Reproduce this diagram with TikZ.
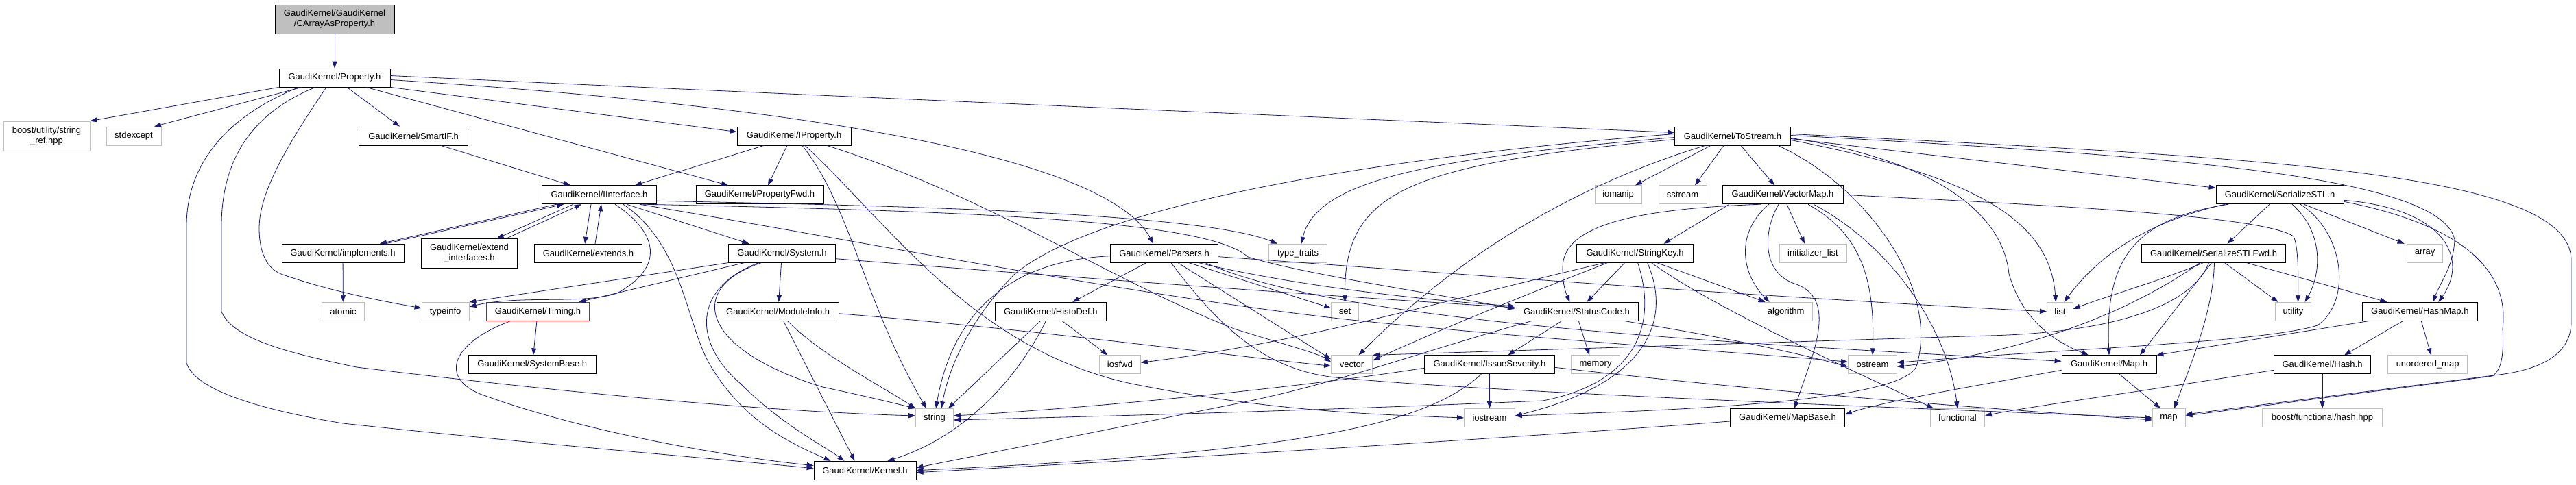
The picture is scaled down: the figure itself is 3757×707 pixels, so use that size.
\documentclass[tikz,border=0pt]{standalone}
\usepackage{fontspec}
\setmainfont{Liberation Sans}
\usetikzlibrary{arrows.meta}
\definecolor{edgeblue}{HTML}{191970}
\definecolor{sysgray}{HTML}{BFBFBF}
\newcommand\gkf{\fontsize{13}{15}\selectfont}
\begin{document}
\begin{tikzpicture}[x=1pt,y=-1pt,
  base/.style={draw, line width=0.8pt, fill=white, minimum height=27pt, inner sep=0pt, align=center, font=\gkf},
  gk/.style={base, draw=black},
  sys/.style={base, draw=sysgray},
  rootn/.style={base, draw=black, fill=sysgray, minimum height=42pt},
  redn/.style={base, draw=red},
  e/.style={draw=edgeblue, line width=0.8pt, -{Triangle[length=10pt,width=7pt]}}]
\useasboundingbox (0,0) rectangle (3757,707);
% ---------------- nodes
\node[rootn, minimum width=174pt] (root) at (488,28) {GaudiKernel/GaudiKernel\\/CArrayAsProperty.h};
\node[gk, minimum width=162pt] (prop) at (488,113.5) {GaudiKernel/Property.h};
\node[sys, minimum width=126pt, minimum height=43pt] (sref) at (68,198.5) {boost/utility/string\\\_ref.hpp};
\node[sys, minimum width=80pt] (stdex) at (195,198.5) {stdexcept};
\node[gk, minimum width=159pt] (smartif) at (603,198.5) {GaudiKernel/SmartIF.h};
\node[gk, minimum width=166pt] (iprop) at (1158,198.5) {GaudiKernel/IProperty.h};
\node[gk, minimum width=169pt] (tostream) at (2527,198.5) {GaudiKernel/ToStream.h};
\node[gk, minimum width=167pt] (iinterface) at (874,284.3) {GaudiKernel/IInterface.h};
\node[gk, minimum width=186pt] (propfwd) at (1108,284.3) {GaudiKernel/PropertyFwd.h};
\node[sys, minimum width=68pt] (iomanip) at (2360,284.3) {iomanip};
\node[sys, minimum width=70pt] (sstream) at (2454,284.3) {sstream};
\node[gk, minimum width=176pt] (vectormap) at (2600,284.3) {GaudiKernel/VectorMap.h};
\node[gk, minimum width=186pt] (serstl) at (3325,284.3) {GaudiKernel/SerializeSTL.h};
\node[gk, minimum width=178pt] (implements) at (500,369.7) {GaudiKernel/implements.h};
\node[gk, minimum width=140pt, minimum height=43pt] (extendif) at (684.5,370) {GaudiKernel/extend\\\_interfaces.h};
\node[gk, minimum width=157pt] (extends) at (858,369.7) {GaudiKernel/extends.h};
\node[gk, minimum width=156pt] (system) at (1140.5,369.7) {GaudiKernel/System.h};
\node[gk, minimum width=157pt] (parsers) at (1698,369.7) {GaudiKernel/Parsers.h};
\node[sys, minimum width=85pt] (typetraits) at (1893,369.7) {type\_traits};
\node[gk, minimum width=170pt] (stringkey) at (2384.6,369.7) {GaudiKernel/StringKey.h};
\node[sys, minimum width=98pt] (initlist) at (2644,369.7) {initializer\_list};
\node[gk, minimum width=210pt] (serstlfwd) at (3228.5,369.7) {GaudiKernel/SerializeSTLFwd.h};
\node[sys, minimum width=52pt] (array) at (3536.6,369.7) {array};
\node[sys, minimum width=62pt] (atomic) at (500.5,454.8) {atomic};
\node[sys, minimum width=69pt] (typeinfo) at (649.6,454.8) {typeinfo};
\node[redn, minimum width=150pt] (timing) at (784.4,454.8) {GaudiKernel/Timing.h};
\node[gk, minimum width=178pt] (moduleinfo) at (1134.7,454.8) {GaudiKernel/ModuleInfo.h};
\node[gk, minimum width=162pt] (histodef) at (1532.3,454.8) {GaudiKernel/HistoDef.h};
\node[sys, minimum width=40pt] (set) at (1961.5,454.8) {set};
\node[gk, minimum width=180pt] (statuscode) at (2299.4,454.8) {GaudiKernel/StatusCode.h};
\node[sys, minimum width=78pt] (algorithm) at (2604.6,454.8) {algorithm};
\node[sys, minimum width=38pt] (list) at (3004.4,454.8) {list};
\node[sys, minimum width=52pt] (utility) at (3344.5,454.8) {utility};
\node[gk, minimum width=168pt] (hashmap) at (3529.3,454.8) {GaudiKernel/HashMap.h};
\node[gk, minimum width=186pt] (systembase) at (776.3,532.3) {GaudiKernel/SystemBase.h};
\node[sys, minimum width=60pt] (iosfwd) at (1633.4,532.3) {iosfwd};
\node[sys, minimum width=60pt] (vector) at (1971.5,532.3) {vector};
\node[gk, minimum width=190pt] (issuesev) at (2172.4,532.3) {GaudiKernel/IssueSeverity.h};
\node[sys, minimum width=71pt] (memory) at (2327,532.3) {memory};
\node[sys, minimum width=71pt] (ostream) at (2731,532.3) {ostream};
\node[gk, minimum width=138pt] (mapH) at (3076,532.3) {GaudiKernel/Map.h};
\node[gk, minimum width=141pt] (hash) at (3387,532.3) {GaudiKernel/Hash.h};
\node[sys, minimum width=116pt] (unordmap) at (3540.6,532.3) {unordered\_map};
\node[sys, minimum width=55pt] (string) at (1363,610) {string};
\node[sys, minimum width=74pt] (iostream) at (2172.4,610) {iostream};
\node[gk, minimum width=167pt] (mapbase) at (2607,610) {GaudiKernel/MapBase.h};
\node[sys, minimum width=79pt] (functional) at (2855,610) {functional};
\node[sys, minimum width=48pt] (map) at (3163,610) {map};
\node[sys, minimum width=175pt] (boosthash) at (3387,610) {boost/functional/hash.hpp};
\node[gk, minimum width=149pt] (kernel) at (1261.5,686.7) {GaudiKernel/Kernel.h};
% ---------------- edges
\draw[e] (root) -- (prop);
% Property.h
\draw[e] (prop.south west) -- (sref.north east);
\draw[e] ([xshift=-48pt]prop.south) -- ([xshift=30pt]stdex.north);
\draw[e] ([xshift=18pt]prop.south) -- ([xshift=-20pt]smartif.north);
\draw[e] (prop.south east) -- ([yshift=6pt]iprop.west);
\draw[e] ([xshift=46pt]prop.south) -- ([xshift=-46pt]propfwd.north);
\draw[e] ([yshift=-3pt]prop.east) .. controls (1250,160) and (1620,240) .. ([xshift=-16pt]parsers.north);
\draw[e] ([yshift=3pt]prop.east) .. controls (1200,140) and (1900,170) .. ([yshift=5pt]tostream.west);
\draw[e] ([xshift=-12pt]prop.south) .. controls (420,210) and (378,280) .. (378,333) .. controls (378,370) and (390,392) .. (410,400) .. controls (480,425) and (560,440) .. ([yshift=5pt]typeinfo.west);
\draw[e] ([xshift=-28pt]prop.south) .. controls (380,160) and (323,220) .. (323,330) -- (323,455) .. controls (340,495) and (420,515) .. (520,536) .. controls (800,570) and (1100,600) .. ([yshift=3pt]string.west);
\draw[e] ([xshift=-52pt]prop.south) .. controls (330,170) and (272,240) .. (272,330) -- (272,530) .. controls (285,570) and (380,598) .. (500,618) .. controls (800,650) and (1050,670) .. ([yshift=3pt]kernel.west);
% SmartIF
\draw[e] ([xshift=40pt]smartif.south) -- ([xshift=-42pt]iinterface.north);
% IProperty
\draw[e] ([xshift=-44pt]iprop.south) -- ([xshift=52pt]iinterface.north);
\draw[e] ([xshift=-10pt]iprop.south) -- ([xshift=12pt]propfwd.north);
\draw[e] ([xshift=12pt]iprop.south) .. controls (1240,300) and (1260,440) .. ([xshift=-12pt]string.north);
\draw[e] ([xshift=16pt]iprop.south) .. controls (1300,330) and (1420,510) .. (1650,560) .. controls (1850,600) and (2000,605) .. (iostream.west);
\draw[e] ([xshift=48pt]iprop.south) .. controls (1450,290) and (1600,400) .. (1800,480) .. controls (1880,505) and (1920,515) .. ([yshift=4pt]vector.west);
% IInterface
\draw[e] ([xshift=-62pt]iinterface.south) -- ([xshift=54pt]implements.north);
\draw[e] ([xshift=62pt]implements.north) -- ([xshift=-52pt]iinterface.south);
\draw[e] ([xshift=-38pt]iinterface.south) -- ([xshift=40pt]extendif.north);
\draw[e] ([xshift=54pt]extendif.north) -- ([xshift=-26pt]iinterface.south);
\draw[e] ([xshift=-12pt]iinterface.south) -- ([xshift=-5pt]extends.north);
\draw[e] ([xshift=10pt]extends.north) -- ([xshift=3pt]iinterface.south);
\draw[e] ([xshift=40pt]iinterface.south) -- ([xshift=-48pt]system.north);
\draw[e] ([xshift=23pt]iinterface.south) .. controls (960,340) and (970,390) .. (900,428) .. controls (850,445) and (760,430) .. ([yshift=7pt]typeinfo.east);
\draw[e] ([xshift=35pt]iinterface.south) .. controls (1000,360) and (1000,480) .. (1040,540) .. controls (1090,620) and (1160,650) .. ([xshift=-50pt]kernel.north);
\draw[e] ([yshift=-9pt]iinterface.east) .. controls (1300,300) and (1750,310) .. ([xshift=-30pt]typetraits.north);
\draw[e] ([xshift=-20pt]iinterface.south east) .. controls (1400,308) and (1760,320) .. (1820,375) .. controls (1900,400) and (2100,430) .. ([yshift=4pt]statuscode.west);
\draw[e] ([xshift=-25pt]iinterface.south east) .. controls (1300,360) and (1700,440) .. (2000,470) .. controls (2300,500) and (2550,515) .. ([yshift=4pt]ostream.west);
% implements
\draw[e] (implements) -- (atomic);
% System
\draw[e] (system.south west) -- (typeinfo.north east);
\draw[e] ([xshift=-55pt]system.south) -- ([xshift=60pt]timing.north);
\draw[e] (system) -- (moduleinfo);
\draw[e] ([xshift=-34pt]system.south) .. controls (1010,420) and (1010,500) .. (1080,560) .. controls (1140,620) and (1200,650) .. ([xshift=-30pt]kernel.north);
\draw[e] ([xshift=-30pt]system.south) .. controls (1000,420) and (1020,510) .. (1200,565) .. controls (1270,580) and (1310,590) .. (string.north west);
\draw[e] ([yshift=-8pt]system.east) .. controls (1500,400) and (1900,430) .. ([yshift=6pt]statuscode.west);
% Timing
\draw[e] (timing) -- (systembase);
\draw[e] ([xshift=-40pt]timing.south) .. controls (660,500) and (640,550) .. (700,575) .. controls (850,630) and (1050,665) .. ([yshift=7pt]kernel.west);
% ModuleInfo
\draw[e] ([xshift=8pt]moduleinfo.south) -- ([xshift=-15pt]kernel.north);
\draw[e] ([xshift=14pt]moduleinfo.south) .. controls (1200,520) and (1280,560) .. (string.north west);
\draw[e] ([yshift=-3pt]moduleinfo.east) .. controls (1500,480) and (1800,520) .. ([yshift=-2pt]vector.west);
% Parsers
\draw[e] ([xshift=-26pt]parsers.south) -- ([xshift=32pt]histodef.north);
\draw[e] ([yshift=-4pt]parsers.west) .. controls (1480,380) and (1390,450) .. ([xshift=2pt]string.north);
\draw[e] ([xshift=36pt]parsers.south) -- ([yshift=5pt]set.west);
\draw[e] ([xshift=20pt]parsers.south) -- ([yshift=8pt]vector.west);
\draw[e] ([xshift=50pt]parsers.south) .. controls (1900,420) and (2100,440) .. ([yshift=8pt]statuscode.west);
\draw[e] ([yshift=-5pt]parsers.east) .. controls (2000,390) and (2500,430) .. (list.west);
\draw[e] ([xshift=60pt]parsers.south) .. controls (1950,470) and (2500,500) .. ([yshift=5pt]mapH.west);
\draw[e] ([xshift=10pt]parsers.south) .. controls (1780,480) and (1850,545) .. (1960,552) .. controls (2200,575) and (2900,600) .. (map.west);
% HistoDef
\draw[e] ([xshift=-15pt]histodef.south) -- ([xshift=20pt]string.north);
\draw[e] ([xshift=17pt]histodef.south) -- ([xshift=-18pt]iosfwd.north);
\draw[e] ([xshift=-7pt]histodef.south) .. controls (1480,560) and (1400,640) .. ([xshift=33pt]kernel.north);
% StatusCode
\draw[e] ([xshift=-22pt]statuscode.south) -- ([xshift=27pt]issuesev.north);
\draw[e] ([xshift=3pt]statuscode.south) -- ([xshift=-9pt]memory.north);
\draw[e] ([xshift=-20pt]statuscode.south east) .. controls (2500,490) and (2600,510) .. ([yshift=-3pt]ostream.west);
\draw[e] ([xshift=-66pt]statuscode.south) .. controls (2050,520) and (1950,560) .. (1800,590) .. controls (1600,630) and (1450,660) .. ([yshift=4pt]kernel.east);
% IssueSeverity
\draw[e] (issuesev) -- (iostream);
\draw[e] ([yshift=-5pt]issuesev.west) .. controls (1900,565) and (1600,595) .. ([yshift=3pt]string.east);
\draw[e] ([yshift=-4pt]issuesev.east) .. controls (2600,575) and (2950,600) .. ([yshift=-3pt]map.west);
\draw[e] ([xshift=-12pt]issuesev.south) .. controls (2080,620) and (1900,660) .. (kernel.east);
% StringKey
\draw[e] ([xshift=-15pt]stringkey.south) -- ([xshift=15pt]statuscode.north);
\draw[e] ([xshift=-40pt]stringkey.south) .. controls (2200,440) and (2080,490) .. ([yshift=6pt]vector.east);
\draw[e] ([xshift=-44pt]stringkey.south) .. controls (2100,440) and (1900,500) .. ([yshift=3pt]iosfwd.east);
\draw[e] ([xshift=4pt]stringkey.south) .. controls (2420,480) and (2380,560) .. (2250,585) .. controls (1900,600) and (1600,608) .. ([yshift=-3pt]string.east);
\draw[e] ([xshift=18pt]stringkey.south) .. controls (2440,470) and (2400,560) .. ([yshift=3pt]iostream.east);
\draw[e] ([xshift=32pt]stringkey.south) -- ([xshift=-30pt]algorithm.north);
\draw[e] ([xshift=24pt]stringkey.south) .. controls (2500,450) and (2700,540) .. ([xshift=-35pt]functional.north);
% VectorMap
\draw[e] ([xshift=-78pt]vectormap.south) -- ([xshift=42pt]stringkey.north);
\draw[e] ([xshift=-32pt]vectormap.south) .. controls (2380,305) and (2280,330) .. (2279,390) .. controls (2279,420) and (2285,430) .. ([xshift=-10pt]statuscode.north);
\draw[e] ([xshift=-20pt]vectormap.south) .. controls (2530,340) and (2540,400) .. ([xshift=-24pt]algorithm.north);
\draw[e] ([xshift=-6pt]vectormap.south) .. controls (2570,340) and (2570,400) .. (2620,415) .. controls (2660,430) and (2660,470) .. (2640,530) -- ([xshift=10pt]mapbase.north);
\draw[e] ([xshift=6pt]vectormap.south) -- ([xshift=-12pt]initlist.north);
\draw[e] ([xshift=37pt]vectormap.south) .. controls (2710,340) and (2735,400) .. (ostream.north);
\draw[e] ([xshift=45pt]vectormap.south) .. controls (2760,360) and (2840,480) .. (functional.north);
\draw[e] (vectormap.east) .. controls (3000,300) and (3300,315) .. (3345,345) .. controls (3352,360) and (3352,400) .. ([xshift=7pt]utility.north);
% ToStream
\draw[e] ([yshift=-2pt]tostream.west) .. controls (2100,230) and (1920,260) .. ([xshift=5pt]typetraits.north);
\draw[e] ([yshift=-5pt]tostream.west) .. controls (2050,240) and (1960,280) .. (set.north);
\draw[e] ([yshift=3pt]tostream.west) .. controls (2000,230) and (1600,300) .. (1480,400) .. controls (1420,460) and (1385,530) .. ([xshift=10pt]string.north);
\draw[e] ([xshift=-40pt]tostream.south) .. controls (2330,260) and (2150,350) .. ([xshift=10pt]vector.north);
\draw[e] ([xshift=-32pt]tostream.south) -- ([xshift=25pt]iomanip.north);
\draw[e] ([xshift=-13pt]tostream.south) -- ([xshift=18pt]sstream.north);
\draw[e] ([xshift=12pt]tostream.south) -- ([xshift=-12pt]vectormap.north);
\draw[e] ([xshift=66pt]tostream.south) .. controls (2720,270) and (2830,420) .. (2795,535) .. controls (2770,590) and (2400,600) .. ([yshift=3pt]iostream.east);
\draw[e] ([yshift=-3pt]tostream.east) .. controls (2800,230) and (2920,300) .. (2930,400) .. controls (2950,470) and (3000,500) .. ([xshift=-30pt]mapH.north);
\draw[e] ([yshift=-6pt]tostream.east) .. controls (2900,260) and (2990,330) .. ([xshift=-6pt]list.north);
\draw[e] ([yshift=3pt]tostream.east) .. controls (3300,230) and (3750,250) .. (3750,380) -- (3750,470) .. controls (3750,520) and (3700,540) .. (3645,547) -- ([yshift=5pt]map.east);
\draw[e] ([yshift=1pt]tostream.east) .. controls (3100,225) and (3560,250) .. (3580,350) .. controls (3578,390) and (3560,410) .. ([xshift=19pt]hashmap.north);
\draw[e] ([yshift=-4pt]tostream.east) -- ([yshift=10pt]serstl.west);
% SerializeSTL
\draw[e] ([xshift=-15pt]serstl.south) -- ([xshift=20pt]serstlfwd.north);
\draw[e] ([xshift=35pt]serstl.south) -- ([xshift=-30pt]array.north);
\draw[e] ([xshift=18pt]serstl.south) .. controls (3390,340) and (3385,400) .. ([xshift=17pt]utility.north);
\draw[e] ([yshift=-8pt]serstl.east) .. controls (3570,305) and (3600,380) .. ([xshift=27pt]hashmap.north);
\draw[e] ([yshift=-10pt]serstl.east) .. controls (3600,330) and (3660,400) .. (3650,480) .. controls (3652,520) and (3648,540) .. (3635,549) -- ([yshift=3pt]map.east);
\draw[e] ([xshift=-80pt]serstl.south) .. controls (3150,320) and (3070,360) .. ([xshift=6pt]list.north);
\draw[e] ([xshift=-75pt]serstl.south) .. controls (3110,320) and (3070,380) .. (mapH.north);
\draw[e] ([xshift=30pt]serstl.south) .. controls (3420,340) and (3430,440) .. (3380,475) .. controls (3300,500) and (3000,510) .. ([yshift=3pt]ostream.east);
% SerializeSTLFwd
\draw[e] ([xshift=-15pt]serstlfwd.south) .. controls (3150,410) and (3080,430) .. ([yshift=4pt]list.east);
\draw[e] ([xshift=-20pt]serstlfwd.south) .. controls (3100,460) and (2950,515) .. ([yshift=-3pt]ostream.east);
\draw[e] ([xshift=-7pt]serstlfwd.south) .. controls (3200,440) and (3100,485) .. (2900,490) -- (vector.north east);
\draw[e] ([xshift=-3pt]serstlfwd.south) -- ([xshift=45pt]mapH.north);
\draw[e] ([xshift=1pt]serstlfwd.south) .. controls (3228,450) and (3200,520) .. ([xshift=8pt]map.north);
\draw[e] ([xshift=16pt]serstlfwd.south) -- ([xshift=-22pt]utility.north);
\draw[e] ([xshift=48pt]serstlfwd.south) -- ([xshift=-48pt]hashmap.north);
% HashMap
\draw[e] ([xshift=-75pt]hashmap.south) -- (mapH.north east);
\draw[e] ([xshift=-25pt]hashmap.south) -- ([xshift=32pt]hash.north);
\draw[e] ([xshift=2pt]hashmap.south) -- ([xshift=5pt]unordmap.north);
% Hash
\draw[e] ([yshift=-8pt]hash.west) .. controls (3100,575) and (2950,595) .. ([yshift=3pt]functional.east);
\draw[e] (hash) -- (boosthash);
% Map.h
\draw[e] ([xshift=15pt]mapH.south) -- ([xshift=-12pt]map.north);
\draw[e] ([yshift=-8pt]mapH.west) .. controls (2900,560) and (2750,585) .. ([yshift=5pt]mapbase.east);
% MapBase
\draw[e] ([yshift=-5pt]mapbase.west) .. controls (2200,640) and (1700,670) .. ([yshift=-3pt]kernel.east);
\end{tikzpicture}
\end{document}
